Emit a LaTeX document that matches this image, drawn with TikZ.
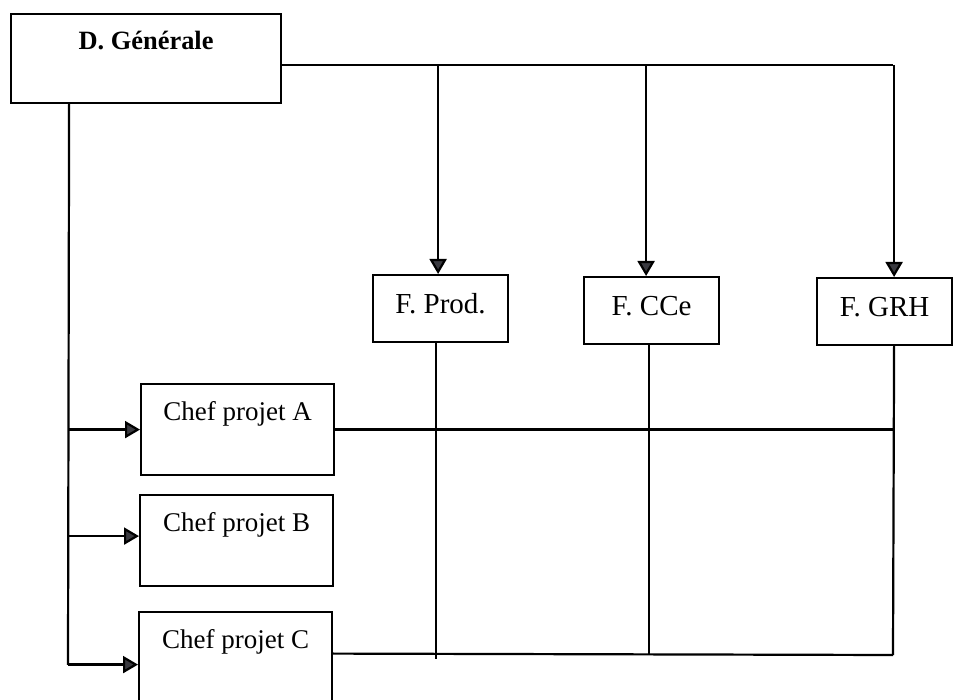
\documentclass[tikz,border=0pt]{standalone}
\usepackage{fontspec}
\setmainfont{Liberation Serif}
\usetikzlibrary{arrows.meta}
\definecolor{pointe}{RGB}{58,58,64}

\begin{document}
\begin{tikzpicture}[x=0.5pt, y=-0.5pt, line width=1.1pt,
    boite/.style={draw, rectangle, anchor=north west, inner sep=0pt},
    direction/.style={boite, minimum width=135pt, text height=17.5pt, text depth=27pt, font=\fontsize{13.2}{15}\selectfont\bfseries},
    fonction/.style={boite, minimum width=67.5pt, text height=19pt, text depth=14.5pt, font=\fontsize{14.5}{16}\selectfont},
    chef/.style={boite, minimum width=96.5pt, text height=18pt, text depth=27.5pt, font=\fontsize{13.5}{15}\selectfont},
    fleche/.style={-{Triangle[length=7.5pt, width=8.5pt, fill=pointe]}}]

    \useasboundingbox (0,0) rectangle (955,700);

    \node[direction] (dg) at (10,13) {D. Générale};
    \node[fonction] (prod) at (372,274) {F. Prod.};
    \node[fonction] (cce) at (583,276) {F. CCe};
    \node[fonction] (grh) at (816,277) {F. GRH};
    \node[chef] (chefA) at (140,383) {Chef projet A};
    \node[chef] (chefB) at (139,494) {Chef projet B};
    \node[chef] (chefC) at (138,611) {Chef projet C};

    \coordinate (hub) at (893,65);
    \coordinate (trunk) at (68,665);
    \coordinate (endC) at (893,655);

    % ligne fonctionnelle
    \draw (hub -| dg.east) -- (hub);
    \draw[fleche] ([xshift=-1.25pt]prod.north |- hub) -- ([xshift=-1.25pt]prod.north);
    \draw[fleche] ([xshift=-2.75pt]cce.north |- hub) -- ([xshift=-2.75pt]cce.north);
    \draw[fleche] ([xshift=4.75pt]grh.north |- hub) -- ([xshift=4.75pt]grh.north);

    % ligne projets
    \draw ([xshift=-38.5pt]dg.south) -- (trunk);
    \draw[fleche] (chefA.west -| trunk) -- (chefA.west);
    \draw[fleche] ([yshift=2.25pt]chefB.west -| trunk) -- ([yshift=2.25pt]chefB.west);
    \draw[fleche] ([yshift=-3.5pt]chefC.west -| trunk) -- ([yshift=-3.5pt]chefC.west);

    \draw ([xshift=-2.25pt]prod.south) -- ([xshift=-2.25pt,yshift=-158pt]prod.south);
    \draw ([xshift=-1.25pt]cce.south) -- ([xshift=-1.25pt,yshift=-154.5pt]cce.south);
    \draw ([xshift=4.75pt]grh.south) -- (endC);
    \draw (chefA.east) -- (chefA.east -| endC);
    \draw ([yshift=2pt]chefC.east) -- (endC);

\end{tikzpicture}
\end{document}
